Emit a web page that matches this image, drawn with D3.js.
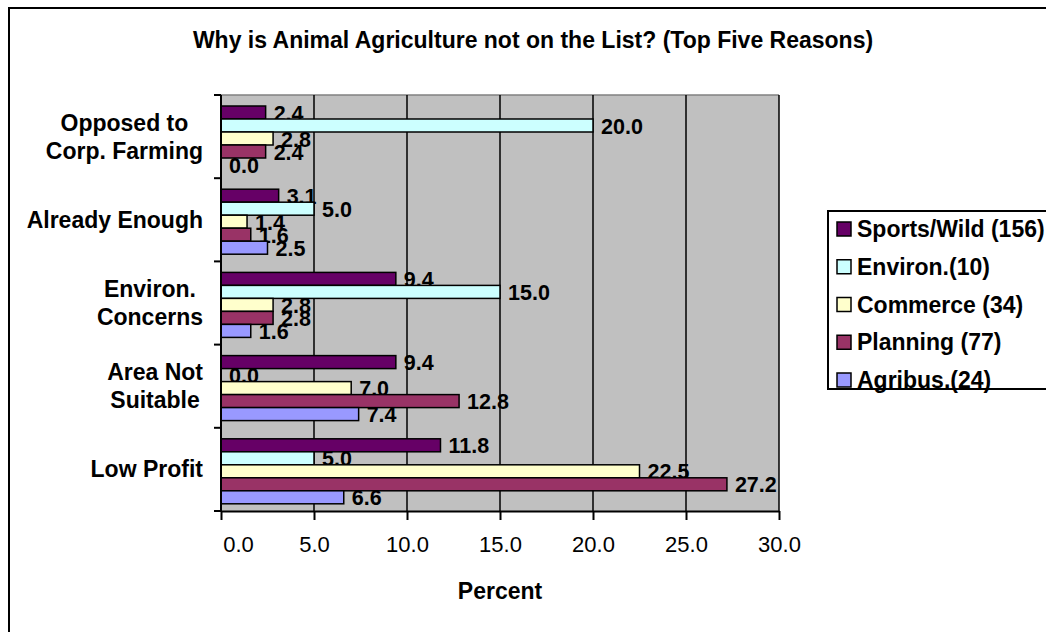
<!DOCTYPE html>
<html>
<head>
<meta charset="utf-8">
<script src="https://cdn.jsdelivr.net/npm/d3@7"></script>
<style>
  body { margin: 0; background: #ffffff; }
  text { font-family: "Liberation Sans", Arial, Helvetica, sans-serif; }
</style>
</head>
<body>
<svg id="chart" width="1046" height="632"></svg>
<script>
// ---- data ----
const categories = ["Opposed to\nCorp. Farming", "Already Enough", "Environ.\nConcerns", "Area Not\nSuitable", "Low Profit"];
const seriesNames = ["Sports/Wild (156)", "Environ.(10)", "Commerce (34)", "Planning (77)", "Agribus.(24)"];
const sportsWild = [2.4, 3.1, 9.4, 9.4, 11.8];
const environ    = [20.0, 5.0, 15.0, 0.0, 5.0];
const commerce   = [2.8, 1.4, 2.8, 7.0, 22.5];
const planning   = [2.4, 1.6, 2.8, 12.8, 27.2];
const agribus    = [0.0, 2.5, 1.6, 7.4, 6.6];
const xTicks = [0, 5, 10, 15, 20, 25, 30];
const seriesColors = ["#660066", "#CCFFFF", "#FFFFCC", "#993366", "#9999FF"];
const titleText = "Why is Animal Agriculture not on the List? (Top Five Reasons)";
const xTitle = "Percent";

const seriesValues = [sportsWild, environ, commerce, planning, agribus];

// ---- layout ----
const plot = { left: 221, right: 779, top: 95, bottom: 511 };
const boldSize = 23;    // title, category names, legend, axis title
const valueSize = 21.5; // data labels
const tickSize = 22;    // axis numbers

const svg = d3.select("#chart");

const x = d3.scaleLinear().domain([0, 30]).range([plot.left, plot.right]);
const y = d3.scaleBand().domain(categories).range([plot.top, plot.bottom]).padding(0);
const inner = d3.scaleBand().domain(seriesNames).range([11, 76]).padding(0);

// chart frame
svg.append("rect")
  .attr("x", 9).attr("y", 8).attr("width", 1200).attr("height", 800)
  .attr("fill", "#ffffff").attr("stroke", "#000").attr("stroke-width", 2);

// title
svg.append("text")
  .attr("x", 533).attr("y", 48)
  .attr("text-anchor", "middle")
  .attr("font-size", boldSize).attr("font-weight", "bold")
  .text(titleText);

// plot area background
svg.append("rect")
  .attr("x", plot.left).attr("y", plot.top)
  .attr("width", plot.right - plot.left).attr("height", plot.bottom - plot.top)
  .attr("fill", "#C0C0C0");
svg.append("line")
  .attr("x1", plot.left).attr("x2", plot.right)
  .attr("y1", plot.top).attr("y2", plot.top)
  .attr("stroke", "#808080").attr("stroke-width", 1.5);

// vertical gridlines
svg.append("g").selectAll("line")
  .data(xTicks.filter(t => t > 0))
  .join("line")
  .attr("x1", d => x(d)).attr("x2", d => x(d))
  .attr("y1", plot.top).attr("y2", plot.bottom)
  .attr("stroke", "#000").attr("stroke-width", 1.5);

// bars and value labels, one series at a time
const fmt = d3.format(".1f");
seriesNames.forEach((name, si) => {
  const g = svg.append("g");
  const rows = categories.map((c, ci) => ({ c, v: seriesValues[si][ci] }));
  g.selectAll("rect")
    .data(rows)
    .join("rect")
    .attr("x", x(0))
    .attr("y", d => y(d.c) + inner(name))
    .attr("width", d => x(d.v) - x(0))
    .attr("height", inner.bandwidth())
    .attr("fill", seriesColors[si])
    .attr("stroke", "#000").attr("stroke-width", 1.5);
  g.selectAll("text")
    .data(rows)
    .join("text")
    .attr("x", d => x(d.v) + 8)
    .attr("y", d => y(d.c) + inner(name) + inner.bandwidth() / 2 + 8)
    .attr("font-size", valueSize).attr("font-weight", "bold")
    .text(d => fmt(d.v));
});

// y axis with ticks on category boundaries
const yAxis = svg.append("g");
yAxis.append("line")
  .attr("x1", plot.left).attr("x2", plot.left)
  .attr("y1", plot.top).attr("y2", plot.bottom)
  .attr("stroke", "#000").attr("stroke-width", 2);
const bounds = categories.map(c => y(c)).concat([plot.bottom]);
yAxis.selectAll("line.tick")
  .data(bounds)
  .join("line")
  .attr("class", "tick")
  .attr("x1", plot.left - 7).attr("x2", plot.left)
  .attr("y1", d => d).attr("y2", d => d)
  .attr("stroke", "#000").attr("stroke-width", 2);

// category labels (multi-line blocks right-aligned, lines centred)
const labelRight = 203;
categories.forEach(c => {
  const lines = c.split("\n");
  const lineGap = 28;
  const cy = y(c) + y.bandwidth() / 2;
  const t = svg.append("text")
    .attr("font-size", boldSize).attr("font-weight", "bold")
    .attr("text-anchor", "middle");
  const spans = lines.map((ln, i) => t.append("tspan")
    .attr("y", cy + 8 + (i - (lines.length - 1) / 2) * lineGap)
    .text(ln));
  const w = d3.max(spans, s => s.node().getComputedTextLength());
  spans.forEach(s => s.attr("x", labelRight - w / 2));
});

// x axis
const xAxis = svg.append("g")
  .attr("transform", `translate(0,${plot.bottom})`)
  .call(d3.axisBottom(x).tickValues(xTicks).tickSize(9).tickSizeOuter(0).tickPadding(16).tickFormat(fmt));
xAxis.select(".domain").attr("stroke", "#000").attr("stroke-width", 2);
xAxis.selectAll(".tick line").attr("stroke", "#000").attr("stroke-width", 2);
xAxis.selectAll(".tick text")
  .attr("font-size", tickSize)
  .attr("font-family", "Liberation Sans, Arial, sans-serif")
  .attr("fill", "#000")
  .attr("dy", "0.71em");
xAxis.selectAll(".tick text").filter(d => d === 0).attr("dx", 17);

svg.append("text")
  .attr("x", (plot.left + plot.right) / 2).attr("y", 599)
  .attr("text-anchor", "middle")
  .attr("font-size", boldSize).attr("font-weight", "bold")
  .text(xTitle);

// legend
const legend = svg.append("g");
legend.append("rect")
  .attr("x", 828).attr("y", 211).attr("width", 400).attr("height", 178)
  .attr("fill", "#ffffff").attr("stroke", "#000").attr("stroke-width", 2);
const legendY = d3.scalePoint().domain(seriesNames).range([229, 380]);
const items = legend.selectAll("g.item")
  .data(seriesNames)
  .join("g")
  .attr("class", "item")
  .attr("transform", d => `translate(0,${legendY(d)})`);
items.append("rect")
  .attr("x", 837).attr("y", -7).attr("width", 14).attr("height", 14)
  .attr("fill", (d, i) => seriesColors[i])
  .attr("stroke", "#000").attr("stroke-width", 1.5);
items.append("text")
  .attr("x", 857).attr("y", 8)
  .attr("font-size", boldSize).attr("font-weight", "bold")
  .text(d => d);
</script>
</body>
</html>
